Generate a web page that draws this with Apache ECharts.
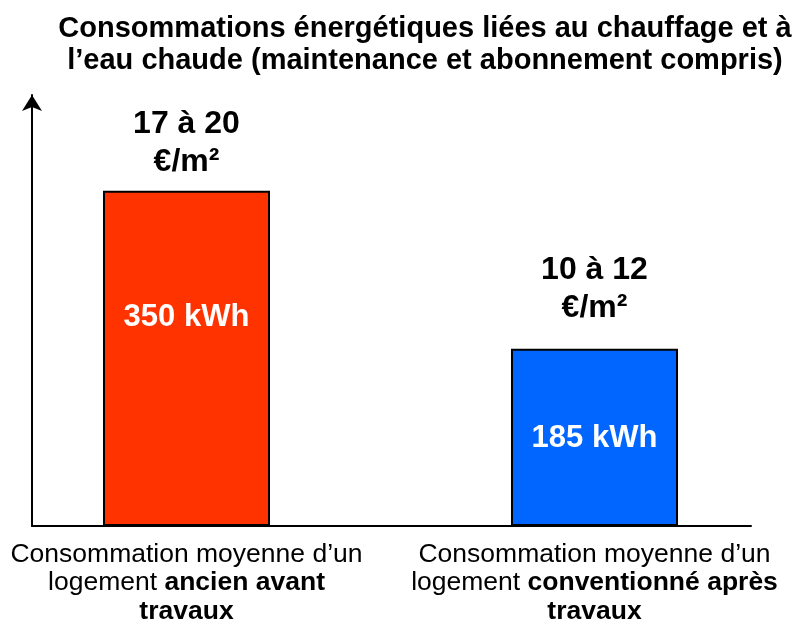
<!doctype html>
<html>
    <head>
        <meta charset="utf-8">
        <title>Consommations énergétiques</title>
        <style>
            html, body { margin: 0; padding: 0; background: #fff; }
            #main { width: 801px; height: 623px; }
        </style>
    </head>
    <body>
        <div id="main"></div>
        <script src="https://cdn.jsdelivr.net/npm/echarts@6/dist/echarts.min.js"></script>
        <script>

            // data
            var categories = [
                'Consommation moyenne d’un\nlogement {b|ancien avant}\n{b|travaux}',
                'Consommation moyenne d’un\nlogement {b|conventionné après}\n{b|travaux}'
            ];
            var consoKwh = [350, 185];
            var consoLabels = ['350 kWh', '185 kWh'];
            var coutLabels = ['17 à 20\n€/m²', '10 à 12\n€/m²'];
            var barColors = ['#ff3300', '#0066ff'];

            var font = 'Liberation Sans, Arial, sans-serif';

            var myChart = echarts.init(document.getElementById('main'));

            var mainBars = consoKwh.map(function(v, i){
                return {
                    value: v,
                    itemStyle: { color: barColors[i] },
                    label: { offset: i == 0 ? [0, -41] : [0, 1] }
                };
            });

            var topBars = consoKwh.map(function(v, i){
                return {
                    value: v,
                    label: { distance: i == 0 ? 10 : 22 }
                };
            });

            myChart.setOption({
                animation: false,
                title: {
                    text: 'Consommations énergétiques liées au chauffage et à\nl’eau chaude (maintenance et abonnement compris)',
                    left: 420,
                    top: 8,
                    textAlign: 'center',
                    textStyle: {
                        fontFamily: font,
                        fontWeight: 'bold',
                        fontSize: 29,
                        lineHeight: 32,
                        color: '#000'
                    }
                },
                grid: [
                    // bars sit on the category ticks (boundaryGap false)
                    { left: 186.5, right: 206.5, top: 95, bottom: 97, outerBoundsMode: 'none' },
                    { left: 32, right: 50, top: 95, bottom: 97, outerBoundsMode: 'none' }
                ],
                xAxis: [{
                    type: 'category',
                    gridIndex: 0,
                    boundaryGap: false,
                    data: categories,
                    axisLine: { show: false },
                    axisTick: { show: false },
                    axisLabel: {
                        interval: 0,
                        margin: 14,
                        verticalAlign: 'top',
                        fontFamily: font,
                        fontSize: 26.5,
                        lineHeight: 28.5,
                        color: '#000',
                        rich: {
                            b: {
                                fontFamily: font,
                                fontSize: 26.5,
                                lineHeight: 28.5,
                                fontWeight: 'bold',
                                color: '#000'
                            }
                        }
                    }
                }, {
                    type: 'value',
                    gridIndex: 1,
                    axisLine: { show: true, lineStyle: { color: '#000', width: 2 } },
                    axisTick: { show: false },
                    axisLabel: { show: false },
                    splitLine: { show: false }
                }],
                yAxis: [{
                    type: 'value',
                    gridIndex: 0,
                    min: 0,
                    max: 450,
                    show: false
                }, {
                    type: 'value',
                    gridIndex: 1,
                    axisLine: {
                        show: true,
                        symbol: ['none', 'arrow'],
                        symbolSize: [15, 16],
                        lineStyle: { color: '#000', width: 2 }
                    },
                    axisTick: { show: false },
                    axisLabel: { show: false },
                    splitLine: { show: false }
                }],
                series: [{
                    type: 'bar',
                    xAxisIndex: 0,
                    yAxisIndex: 0,
                    data: mainBars,
                    barWidth: 167,
                    clip: false,
                    itemStyle: { borderColor: '#000', borderWidth: 2 },
                    label: {
                        show: true,
                        position: 'inside',
                        formatter: function(p){ return consoLabels[p.dataIndex]; },
                        fontFamily: font,
                        fontWeight: 'bold',
                        fontSize: 31,
                        color: '#fff'
                    },
                    z: 2
                }, {
                    type: 'bar',
                    xAxisIndex: 0,
                    yAxisIndex: 0,
                    data: topBars,
                    barWidth: 167,
                    barGap: '-100%',
                    clip: false,
                    itemStyle: { color: 'rgba(0,0,0,0)' },
                    label: {
                        show: true,
                        position: 'top',
                        formatter: function(p){ return coutLabels[p.dataIndex]; },
                        fontFamily: font,
                        fontWeight: 'bold',
                        fontSize: 32,
                        lineHeight: 38,
                        color: '#000'
                    },
                    z: 3
                }]
            });

        </script>
    </body>
</html>
